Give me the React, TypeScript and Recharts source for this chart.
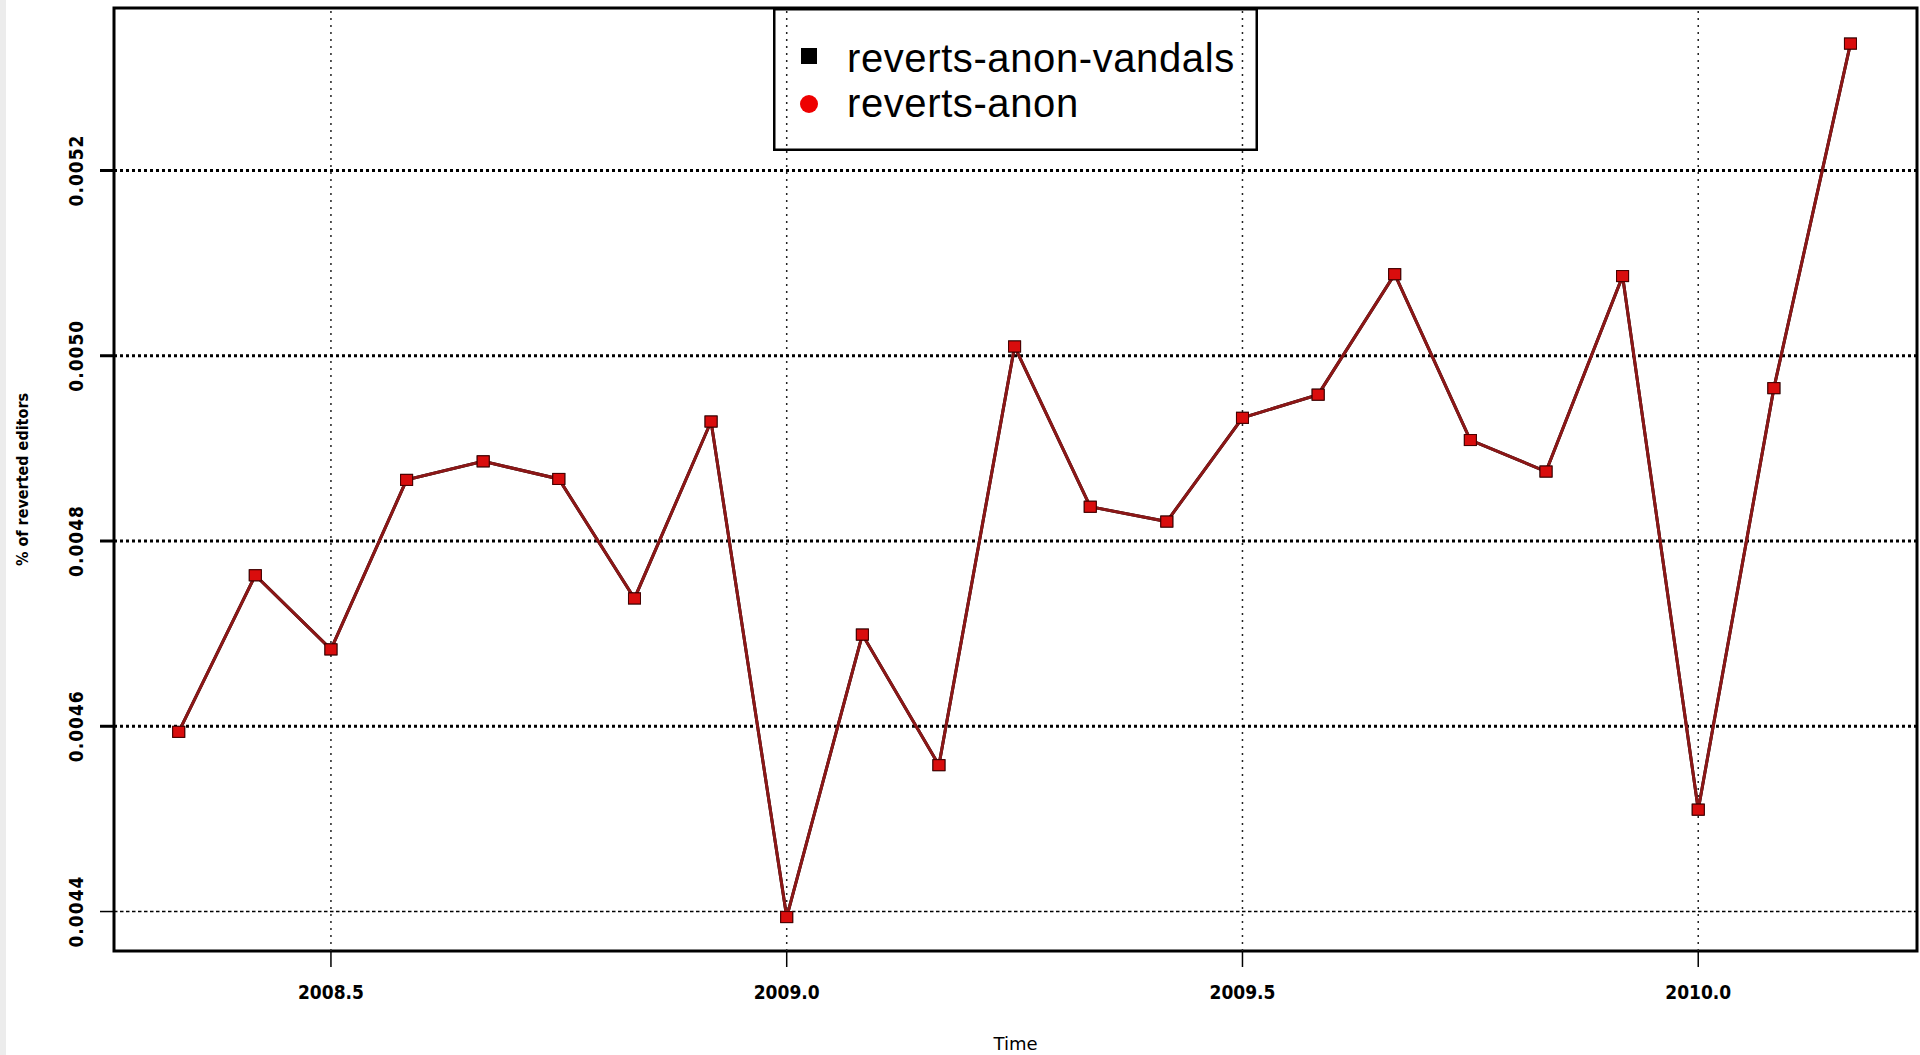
import React from 'react';
import { LineChart, Line, XAxis, YAxis, ReferenceLine, ReferenceArea, Label } from 'recharts';

// monthly samples, May 2008 .. Mar 2010 (decimal years)
const time = [
  2008.333, 2008.417, 2008.5, 2008.583, 2008.667, 2008.75, 2008.833, 2008.917,
  2009.0, 2009.083, 2009.167, 2009.25, 2009.333, 2009.417, 2009.5, 2009.583,
  2009.667, 2009.75, 2009.833, 2009.917, 2010.0, 2010.083, 2010.167,
];

const revertsAnon = [
  0.004594, 0.004763, 0.004683, 0.004866, 0.004886, 0.004867, 0.004738, 0.004929,
  0.004394, 0.004699, 0.004558, 0.00501, 0.004837, 0.004821, 0.004933, 0.004958,
  0.005088, 0.004909, 0.004875, 0.005086, 0.00451, 0.004965, 0.005337,
];

// sits exactly under the anon series
const revertsAnonVandals = [
  0.004594, 0.004763, 0.004683, 0.004866, 0.004886, 0.004867, 0.004738, 0.004929,
  0.004394, 0.004699, 0.004558, 0.00501, 0.004837, 0.004821, 0.004933, 0.004958,
  0.005088, 0.004909, 0.004875, 0.005086, 0.00451, 0.004965, 0.005337,
];

const xTicks = [2008.5, 2009.0, 2009.5, 2010.0];
const yTicks = [0.0044, 0.0046, 0.0048, 0.005, 0.0052];

const X_DOMAIN: [number, number] = [2008.262, 2010.24];
const Y_DOMAIN: [number, number] = [0.0043574, 0.0053754];

const data = time.map((t, i) => ({ t, anon: revertsAnon[i], vandals: revertsAnonVandals[i] }));

const AXIS_FONT = '"DejaVu Sans Condensed", "DejaVu Sans", sans-serif';

const XTick = (props: any) => {
  const { x, y, payload } = props;
  return (
    <g>
      <line x1={x} x2={x} y1={y} y2={y + 16} stroke="#000" strokeWidth={1.5} />
      <text
        x={x}
        y={y + 48}
        textAnchor="middle"
        fontFamily={AXIS_FONT}
        fontWeight="bold"
        fontSize={19}
        style={{ fontStretch: 'condensed' }}
        fill="#000"
      >
        {payload.value.toFixed(1)}
      </text>
    </g>
  );
};

const YTick = (props: any) => {
  const { x, y, payload } = props;
  const thin = payload.value === yTicks[0];
  return (
    <g>
      <line x1={x - 14} x2={x} y1={y} y2={y} stroke="#000" strokeWidth={thin ? 1.5 : 3} />
      <text
        transform={`translate(${x - 31},${y}) rotate(-90)`}
        textAnchor="middle"
        fontFamily={AXIS_FONT}
        fontWeight="bold"
        fontSize={19}
        letterSpacing={1}
        style={{ fontStretch: 'condensed' }}
        fill="#000"
      >
        {payload.value.toFixed(4)}
      </text>
    </g>
  );
};

const squareDot = (fill: string, stroke: string) => (props: any) => {
  const { cx, cy, index } = props;
  if (cx == null || cy == null) return <g key={`e-${index}`} />;
  return (
    <rect
      key={`d-${index}`}
      x={cx - 6}
      y={cy - 5.5}
      width={12}
      height={11}
      fill={fill}
      stroke={stroke}
      strokeWidth={1}
    />
  );
};

const LegendBox = () => (
  <svg
    width={485}
    height={143}
    style={{ position: 'absolute', left: 773, top: 8, overflow: 'visible' }}
  >
    <rect x={1.25} y={1.25} width={482.5} height={140.5} fill="none" stroke="#000" strokeWidth={2.5} />
    <rect x={28} y={40} width={16} height={16} fill="#000" />
    <circle cx={36} cy={96} r={9} fill="#ee0000" />
    <text x={74} y={64} fontFamily='"Liberation Sans", Arial, sans-serif' fontSize={40} letterSpacing={0.6} fill="#000">
      reverts-anon-vandals
    </text>
    <text x={74} y={109} fontFamily='"Liberation Sans", Arial, sans-serif' fontSize={40} letterSpacing={0.6} fill="#000">
      reverts-anon
    </text>
  </svg>
);

export default function App() {
  return (
    <div style={{ position: 'absolute', left: 0, top: 0, width: 1920, height: 1055, background: '#fff' }}>
      <div style={{ position: 'absolute', left: 0, top: 0, width: 6, height: 1055, background: '#ececec' }} />
      <LineChart width={1920} height={1055} data={data} margin={{ top: 8, right: 3, left: 0, bottom: 0 }}>
        <XAxis
          dataKey="t"
          type="number"
          domain={X_DOMAIN}
          ticks={xTicks}
          allowDataOverflow
          interval={0}
          height={104}
          axisLine={false}
          tickLine={false}
          tickSize={0}
          tickMargin={0}
          tick={XTick}
        >
          <Label
            content={(p: any) => (
              <text
                x={p.viewBox.x + p.viewBox.width / 2}
                y={1050}
                textAnchor="middle"
                fontFamily='"DejaVu Sans", sans-serif'
                fontSize={18}
                fill="#000"
              >
                Time
              </text>
            )}
          />
        </XAxis>
        <YAxis
          type="number"
          domain={Y_DOMAIN}
          ticks={yTicks}
          allowDataOverflow
          interval={0}
          width={114}
          axisLine={false}
          tickLine={false}
          tickSize={0}
          tickMargin={0}
          tick={YTick}
        >
          <Label
            content={(p: any) => (
              <text
                transform={`translate(28,${p.viewBox.y + p.viewBox.height / 2}) rotate(-90)`}
                textAnchor="middle"
                fontFamily={AXIS_FONT}
                fontWeight="bold"
                fontSize={16}
                style={{ fontStretch: 'condensed' }}
                fill="#000"
              >
                % of reverted editors
              </text>
            )}
          />
        </YAxis>

        {xTicks.map((v) => (
          <ReferenceLine key={`vx-${v}`} x={v} stroke="#222" strokeWidth={1.5} strokeDasharray="2 5" />
        ))}
        {yTicks.map((v, i) => (
          <ReferenceLine
            key={`hy-${v}`}
            y={v}
            stroke="#000"
            strokeWidth={i === 0 ? 1.5 : 3}
            strokeDasharray={i === 0 ? '3.5 2.5' : '3 3'}
          />
        ))}

        <Line
          dataKey="vandals"
          stroke="#000"
          strokeWidth={3}
          dot={squareDot('#000', '#000')}
          activeDot={false}
          isAnimationActive={false}
        />
        <Line
          dataKey="anon"
          stroke="#8c1717"
          strokeWidth={3}
          dot={squareDot('#d90d0d', '#4a0000')}
          activeDot={false}
          isAnimationActive={false}
        />

        <ReferenceArea
          x1={X_DOMAIN[0]}
          x2={X_DOMAIN[1]}
          y1={Y_DOMAIN[0]}
          y2={Y_DOMAIN[1]}
          fill="none"
          stroke="#000"
          strokeWidth={3}
          ifOverflow="visible"
        />
      </LineChart>
      <LegendBox />
    </div>
  );
}
